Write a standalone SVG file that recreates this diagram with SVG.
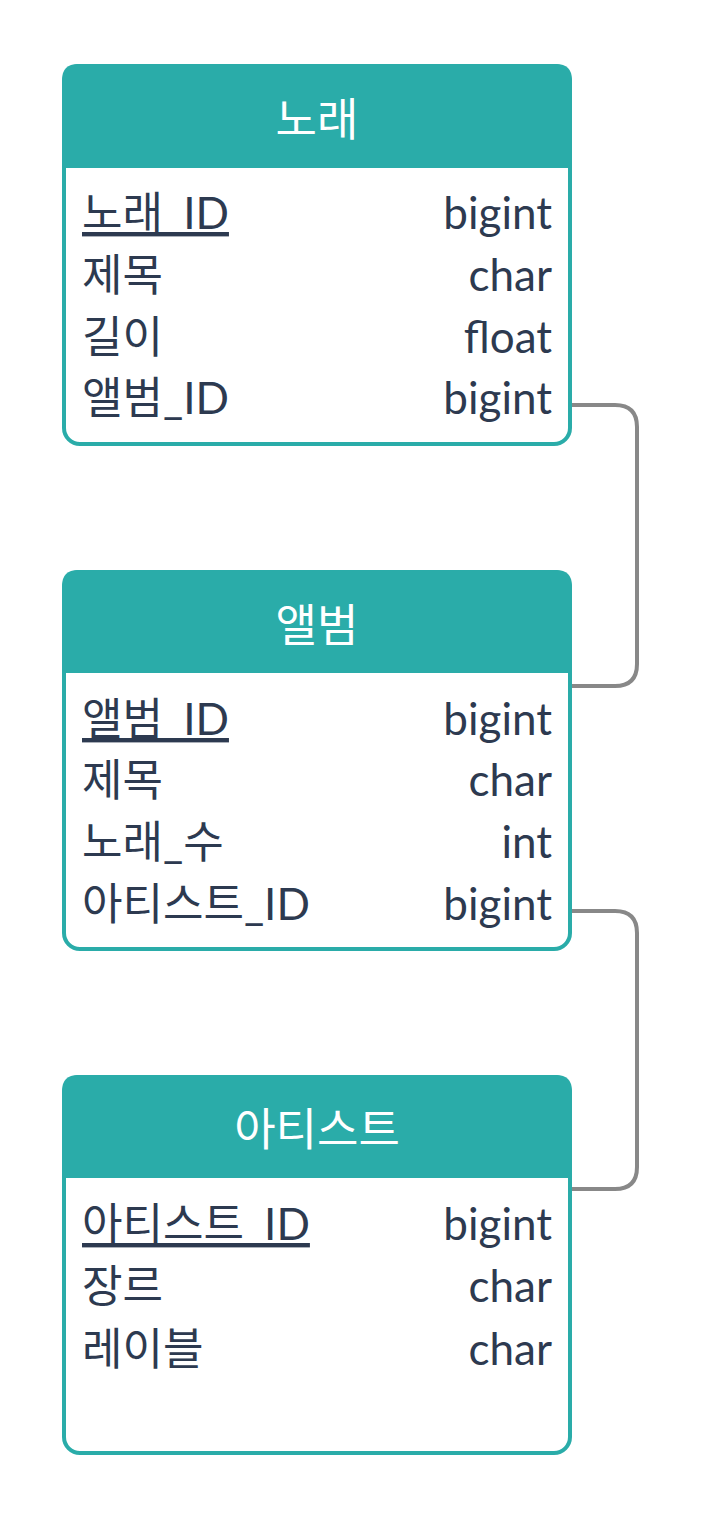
<svg xmlns="http://www.w3.org/2000/svg" width="704" height="1520" viewBox="0 0 704 1520">
<style>
.box{fill:#ffffff;stroke:#2aaca9;stroke-width:4}
.head{fill:#2aaca9}
.title{font-family:Lato,"Noto Sans CJK KR",sans-serif;font-size:45px;fill:#ffffff;text-anchor:middle}
.f{font-family:Lato,"Noto Sans CJK KR",sans-serif;font-size:44px;fill:#2d3a50}
.t{font-family:Lato,"Noto Sans CJK KR",sans-serif;font-size:44px;fill:#2d3a50;text-anchor:end}
.pk{text-decoration:underline}
.conn{fill:none;stroke:#888888;stroke-width:4}
</style>
<rect width="704" height="1520" fill="#ffffff"/>
<g id="connectors">
<path class="conn" d="M572 405 H615 Q637 405 637 427 V664 Q637 686 615 686 H572"/>
<path class="conn" d="M572 911 H615 Q637 911 637 933 V1167 Q637 1189 615 1189 H572"/>
</g>
<g id="song">
<rect class="box" x="64" y="66" width="506" height="378" rx="16"/>
<path class="head" d="M62 168 V80 Q62 64 78 64 H556 Q572 64 572 80 V168 Z"/>
<text class="title" x="317" y="136">노래</text>
<text class="f pk" x="82" y="229">노래_ID</text><text class="t" x="552" y="229">bigint</text>
<text class="f" x="82" y="291">제목</text><text class="t" x="552" y="291">char</text>
<text class="f" x="82" y="353">길이</text><text class="t" x="552" y="353">float</text>
<text class="f" x="82" y="414">앨범_ID</text><text class="t" x="552" y="414">bigint</text>
</g>
<g id="album">
<rect class="box" x="64" y="572" width="506" height="377" rx="16"/>
<path class="head" d="M62 673 V586 Q62 570 78 570 H556 Q572 570 572 586 V673 Z"/>
<text class="title" x="317" y="642">앨범</text>
<text class="f pk" x="82" y="735">앨범_ID</text><text class="t" x="552" y="735">bigint</text>
<text class="f" x="82" y="796">제목</text><text class="t" x="552" y="796">char</text>
<text class="f" x="82" y="858">노래_수</text><text class="t" x="552" y="858">int</text>
<text class="f" x="82" y="920">아티스트_ID</text><text class="t" x="552" y="920">bigint</text>
</g>
<g id="artist">
<rect class="box" x="64" y="1077" width="506" height="376" rx="16"/>
<path class="head" d="M62 1178 V1091 Q62 1075 78 1075 H556 Q572 1075 572 1091 V1178 Z"/>
<text class="title" x="317" y="1146">아티스트</text>
<text class="f pk" x="82" y="1240">아티스트_ID</text><text class="t" x="552" y="1240">bigint</text>
<text class="f" x="82" y="1302">장르</text><text class="t" x="552" y="1302">char</text>
<text class="f" x="82" y="1365">레이블</text><text class="t" x="552" y="1365">char</text>
</g>
</svg>
